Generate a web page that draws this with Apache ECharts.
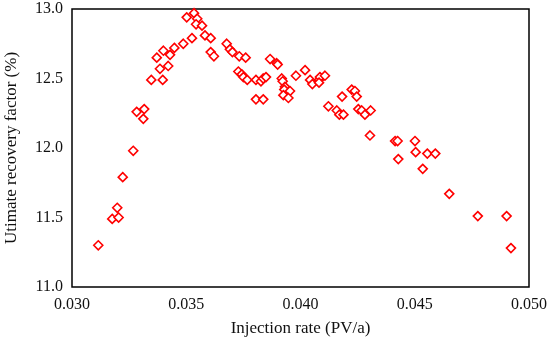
<!DOCTYPE html>
<html><head><meta charset="utf-8">
<script src="https://cdn.jsdelivr.net/npm/echarts@6/dist/echarts.min.js"></script>
<style>html,body{margin:0;padding:0;background:#fff}#c{width:550px;height:340px}</style>
</head><body><div id="c"></div>
<script>
var injectionRate = [0.03115,0.03176,0.03204,0.03198,0.03222,0.03268,0.03283,0.03316,0.03312,0.03347,0.03397,0.03385,0.03421,0.03371,0.03429,0.03400,0.03448,0.03487,0.03525,0.03502,0.03534,0.03548,0.03543,0.03569,0.03582,0.03607,0.03607,0.03621,0.03677,0.03691,0.03702,0.03732,0.03760,0.03728,0.03743,0.03750,0.03767,0.03805,0.03827,0.03837,0.03849,0.03805,0.03837,0.03867,0.03896,0.03900,0.03918,0.03922,0.03932,0.03929,0.03954,0.03925,0.03947,0.03980,0.04020,0.04042,0.04052,0.04081,0.04085,0.04107,0.04081,0.04122,0.04159,0.04170,0.04188,0.04182,0.04224,0.04238,0.04246,0.04253,0.04268,0.04282,0.04307,0.04304,0.04414,0.04425,0.04428,0.04501,0.04504,0.04555,0.04590,0.04535,0.04651,0.04776,0.04902,0.04921];
var recoveryFactor = [11.30,11.49,11.50,11.57,11.79,11.98,12.26,12.28,12.21,12.49,12.49,12.57,12.59,12.65,12.67,12.70,12.72,12.75,12.79,12.94,12.97,12.93,12.89,12.88,12.81,12.79,12.69,12.66,12.75,12.71,12.69,12.66,12.65,12.55,12.53,12.51,12.49,12.49,12.48,12.50,12.51,12.35,12.35,12.64,12.61,12.60,12.50,12.48,12.44,12.42,12.41,12.38,12.36,12.52,12.56,12.49,12.46,12.49,12.51,12.52,12.47,12.30,12.27,12.24,12.24,12.37,12.42,12.41,12.37,12.28,12.27,12.24,12.27,12.09,12.05,12.05,11.92,12.05,11.97,11.96,11.96,11.85,11.67,11.51,11.51,11.28];
var xTitle = 'Injection rate (PV/a)';
var yTitle = 'Utimate recovery factor (%)';

var pts = injectionRate.map(function(x,i){return [x, recoveryFactor[i]];});
var font = 'Liberation Serif';
var chart = echarts.init(document.getElementById('c'), null, {renderer:'canvas'});
chart.setOption({
  animation:false,
  grid:{left:72,right:21,top:9,bottom:53,outerBoundsMode:'none',containLabel:false,show:true,borderColor:'#000',borderWidth:1.5,backgroundColor:'transparent'},
  xAxis:{type:'value',min:0.030,max:0.050,interval:0.005,
    name:xTitle,nameLocation:'middle',nameGap:33,
    nameTextStyle:{fontFamily:font,fontSize:17,color:'#111'},
    axisLine:{show:false},axisTick:{show:false},splitLine:{show:false},
    axisLabel:{fontFamily:font,fontSize:16,color:'#111',margin:10,formatter:function(v){return v.toFixed(3);}}},
  yAxis:{type:'value',min:11,max:13,interval:0.5,
    name:yTitle,nameLocation:'middle',nameGap:52,
    nameTextStyle:{fontFamily:font,fontSize:17,color:'#111'},
    axisLine:{show:false},axisTick:{show:false},splitLine:{show:false},
    axisLabel:{fontFamily:font,fontSize:16,color:'#111',margin:9,formatter:function(v){return v.toFixed(1);}}},
  series:[{type:'scatter',data:pts,symbol:'diamond',symbolSize:9,
    itemStyle:{color:'#fff',borderColor:'#ff0000',borderWidth:1.6,opacity:1}}]
});
</script></body></html>
